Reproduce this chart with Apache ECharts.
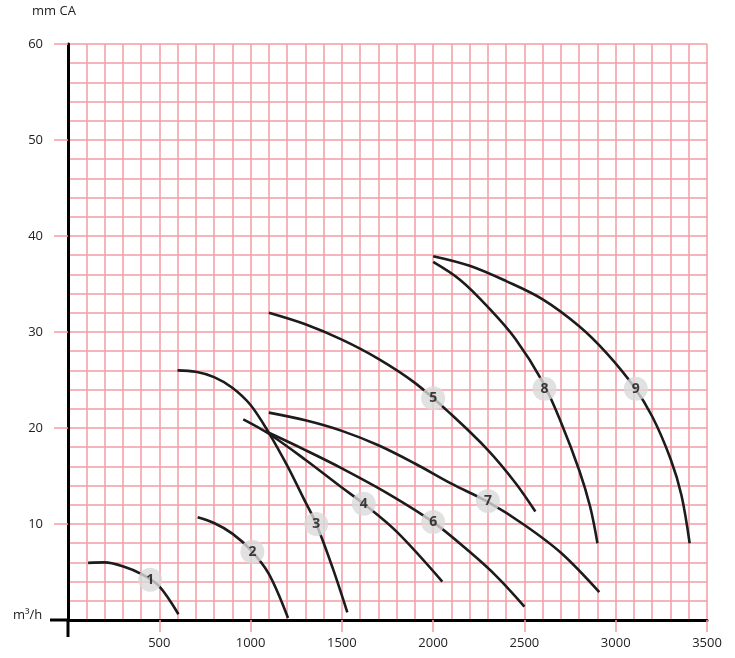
<!DOCTYPE html>
<html><head><meta charset="utf-8">
<script src="https://cdn.jsdelivr.net/npm/echarts@6/dist/echarts.min.js"></script>
<style>html,body{margin:0;padding:0;background:#fff}#c{width:735px;height:658px}</style>
</head><body><div id="c"></div>
<script>
var xTicks = [500, 1000, 1500, 2000, 2500, 3000, 3500];
var yTicks = [10, 20, 30, 40, 50, 60];
var curveNames = ['1','2','3','4','5','6','7','8','9'];
var curve1 = [[110,5.95],[200,6.0],[300,5.6],[400,4.8],[500,3.5],[605,0.6]];
var curve2 = [[710,10.7],[800,10.1],[900,9.0],[1000,7.3],[1100,4.8],[1205,0.2]];
var curve3 = [[600,26.0],[700,25.85],[800,25.3],[900,24.2],[1000,22.4],[1100,19.5],[1200,16.1],[1300,12.3],[1360,10.0],[1450,5.4],[1530,0.8]];
var curve4 = [[960,20.9],[1100,19.4],[1300,16.7],[1500,13.8],[1620,12.1],[1800,9.2],[2050,4.0]];
var curve5 = [[1100,32.0],[1300,30.8],[1500,29.2],[1700,27.2],[1900,24.7],[2100,21.4],[2300,17.7],[2450,14.3],[2560,11.3]];
var curve6 = [[1100,19.5],[1300,17.7],[1500,15.8],[1750,13.2],[2000,10.2],[2200,7.1],[2350,4.5],[2500,1.4]];
var curve7 = [[1100,21.6],[1300,20.8],[1500,19.7],[1700,18.2],[1900,16.3],[2100,14.2],[2300,12.3],[2500,9.9],[2700,7.0],[2910,2.9]];
var curve8 = [[2000,37.3],[2150,35.4],[2300,32.6],[2450,29.3],[2600,24.8],[2700,20.6],[2800,15.6],[2860,11.8],[2900,8.0]];
var curve9 = [[2000,37.9],[2200,36.9],[2400,35.3],[2600,33.4],[2800,30.6],[2950,27.8],[3100,24.3],[3200,21.2],[3300,16.8],[3360,13.0],[3405,8.0]];
var badgeX = [450, 1010, 1360, 1620, 2000, 2000, 2300, 2610, 3110];
var badgeY = [4.2, 7.1, 10.0, 12.1, 23.1, 10.2, 12.4, 24.1, 24.1];

var curves = [curve1, curve2, curve3, curve4, curve5, curve6, curve7, curve8, curve9];
var gridColor = '#f59ca4';
var font = '"Open Sans", sans-serif';

var series = curves.map(function (d, i) {
  return { type: 'line', name: curveNames[i], data: d, smooth: 0.35, symbol: 'none',
    lineStyle: { color: '#1c1c1c', width: 2.6 }, z: 3, silent: true };
});
series.push({
  type: 'scatter', symbolSize: 24, z: 5, silent: true,
  itemStyle: { color: '#dadada' },
  label: { show: true, position: 'inside', formatter: function (p) { return p.data[2]; },
    color: '#111', fontWeight: 'bold', fontSize: 14, fontFamily: font },
  data: badgeX.map(function (x, i) { return [x, badgeY[i], curveNames[i]]; })
});

var lbl = { fontSize: 13, color: '#222', fontFamily: font };
var chart = echarts.init(document.getElementById('c'));
chart.setOption({
  animation: false,
  grid: { left: 68, right: 28, top: 44, bottom: 38, containLabel: false },
  xAxis: [{
    type: 'value', min: 0, max: 3500, interval: 100,
    axisLine: { show: true, onZero: false, lineStyle: { color: '#000', width: 3 } },
    axisTick: { show: false },
    axisLabel: Object.assign({ margin: 17, formatter: function (v) { return xTicks.indexOf(v) >= 0 ? String(v) : ''; } }, lbl),
    splitLine: { show: true, lineStyle: { color: gridColor, width: 1.5 } }
  }, {
    type: 'value', min: 0, max: 3500, interval: 500, position: 'bottom',
    axisLine: { show: false }, axisLabel: { show: false }, splitLine: { show: false },
    axisTick: { show: true, length: 12, lineStyle: { color: gridColor, width: 1.5 } }
  }],
  yAxis: [{
    type: 'value', min: 0, max: 60, interval: 2,
    axisLine: { show: true, onZero: false, lineStyle: { color: '#000', width: 3 } },
    axisTick: { show: false },
    axisLabel: Object.assign({ margin: 25, formatter: function (v) { return yTicks.indexOf(v) >= 0 ? String(v) : ''; } }, lbl),
    splitLine: { show: true, lineStyle: { color: gridColor, width: 1.5 } }
  }, {
    type: 'value', min: 0, max: 60, interval: 10, position: 'left',
    axisLine: { show: false }, axisLabel: { show: false }, splitLine: { show: false },
    axisTick: { show: true, length: 14, lineStyle: { color: gridColor, width: 1.5 } }
  }],
  series: series
});

var o = chart.convertToPixel({ gridIndex: 0 }, [0, 0]);
chart.setOption({
  graphic: [
    { type: 'line', z: 10, shape: { x1: o[0], y1: o[1], x2: o[0], y2: o[1] + 17 }, style: { stroke: '#000', lineWidth: 3 } },
    { type: 'line', z: 10, shape: { x1: o[0] - 18, y1: o[1], x2: o[0], y2: o[1] }, style: { stroke: '#000', lineWidth: 3 } },
    { type: 'text', left: 32, top: 5, style: { text: 'mm CA', fill: '#222', font: '13px ' + font } },
    { type: 'text', left: 13, top: o[1] - 11, style: { text: 'm³/h', fill: '#222', font: '13px ' + font } }
  ]
});
</script></body></html>
